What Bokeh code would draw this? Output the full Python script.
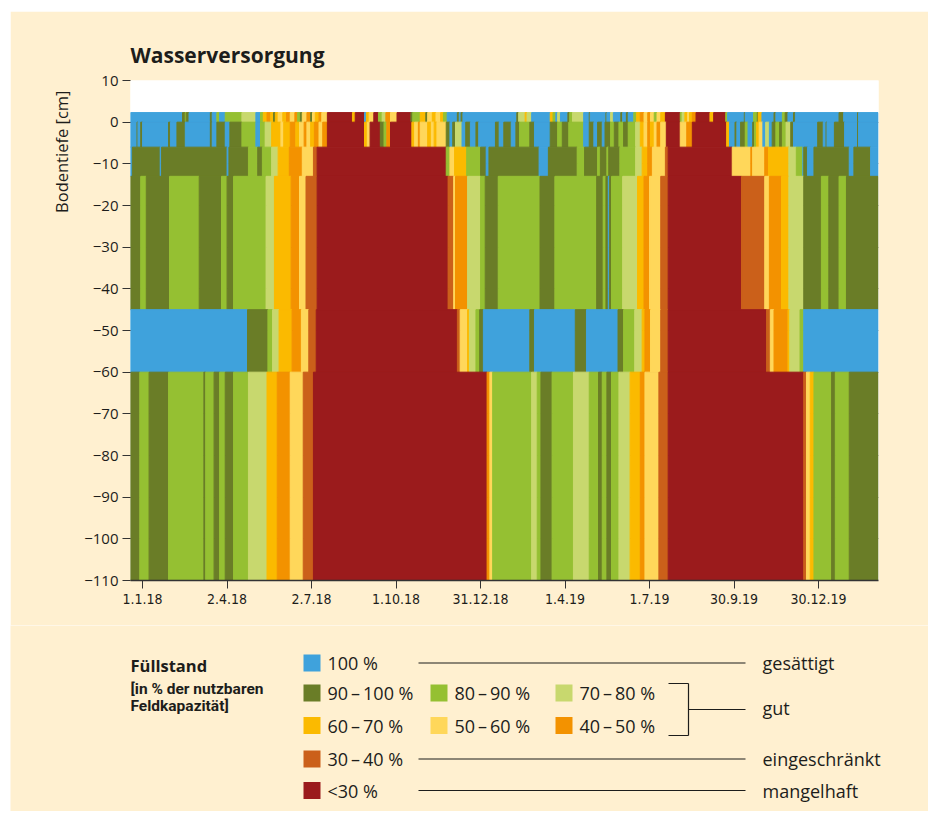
import pandas as pd
from bokeh.plotting import figure
from bokeh.models import ColumnDataSource, FixedTicker, Range1d, Title
from bokeh.core.properties import value
from bokeh.embed import file_html
from bokeh.resources import INLINE

# ---------------- data ----------------
CLASS_LABELS = ["100 %", "90\u2009–\u2009100 %", "80\u2009–\u200990 %", "70\u2009–\u200980 %",
                "60\u2009–\u200970 %", "50\u2009–\u200960 %", "40\u2009–\u200950 %",
                "30\u2009–\u200940 %", "<30 %"]
CLASS_COLORS = ["#3FA2DC", "#6A7D27", "#95C032", "#C8D86E", "#FBBA00",
                "#FFD75A", "#F39200", "#CB601A", "#9B1B1C"]
RATINGS = ["gesättigt", "gut", "eingeschränkt", "mangelhaft"]

X_TICK_LABELS = ["1.1.18", "2.4.18", "2.7.18", "1.10.18", "31.12.18",
                 "1.4.19", "1.7.19", "30.9.19", "30.12.19"]
ORIGIN = "2018-01-01"          # day 0 of the x axis
START_DAY, END_DAY = -13, 792  # first / last day of the record
Y_TICKS = list(range(-110, 11, 10))

# soil layers (cm): top and bottom
LAYER_TOP = [2.3, 0, -6, -13, -45, -60]
LAYER_BOTTOM = [0, -6, -13, -45, -60, -110]

# each layer: start day of each period and class index (0 = 100 %, 8 = <30 %)
A_START = [-13, 43, 46, 47, 50, 73, 75, 80, 83, 89, 107, 122, 127, 130, 134, 138, 141, 143, 146, 151,
           155, 159, 164, 167, 170, 172, 177, 181, 183, 186, 190, 193, 199, 226, 229, 239, 241, 244, 249, 254,
           258, 262, 267, 274, 289, 291, 299, 305, 307, 312, 316, 321, 324, 328, 339, 341, 343, 345, 403, 405,
           412, 414, 419, 439, 442, 445, 447, 450, 458, 460, 463, 475, 481, 482, 499, 500, 504, 507, 515, 517,
           521, 523, 529, 532, 536, 540, 544, 547, 551, 554, 558, 563, 579, 581, 584, 587, 589, 592, 596, 611,
           615, 628, 630, 648, 649, 658, 662, 663, 667, 680, 682, 689, 692, 695, 701, 703, 750, 755, 770, 771]
A_CLASS = [0, 1, 2, 1, 0, 1, 0, 2, 0, 2, 3, 0, 2, 4, 6, 4, 1, 4, 5, 4,
           6, 5, 6, 2, 1, 5, 6, 1, 5, 4, 6, 5, 8, 4, 8, 0, 4, 5, 8, 2,
           3, 6, 5, 8, 1, 2, 4, 1, 5, 4, 5, 4, 2, 0, 1, 0, 1, 0, 1, 3,
           4, 3, 0, 4, 2, 0, 3, 0, 1, 2, 3, 0, 1, 0, 1, 0, 3, 0, 1, 0,
           1, 0, 2, 4, 6, 5, 6, 5, 2, 5, 4, 8, 2, 3, 4, 5, 4, 6, 8, 4,
           8, 2, 0, 1, 0, 2, 1, 4, 0, 1, 0, 2, 1, 0, 1, 0, 1, 0, 1, 0]

B_START = [-13, -6, -5, -2, 0, 28, 30, 37, 46, 73, 75, 80, 89, 94, 107, 122, 127, 132, 139, 149,
           152, 159, 165, 169, 174, 177, 181, 185, 190, 194, 199, 239, 242, 245, 256, 260, 263, 267, 290, 293,
           297, 299, 307, 311, 314, 317, 327, 331, 334, 337, 344, 348, 353, 359, 362, 380, 384, 389, 397, 402,
           406, 417, 422, 439, 447, 452, 459, 475, 481, 486, 490, 495, 498, 504, 508, 513, 518, 523, 531, 536,
           540, 544, 547, 551, 554, 558, 564, 579, 586, 592, 629, 632, 638, 640, 644, 649, 652, 657, 659, 661,
           664, 668, 671, 675, 678, 682, 686, 689, 693, 698, 701, 727, 733, 736, 737, 745, 756, 770, 771]
B_CLASS = [0, 1, 0, 1, 0, 1, 0, 1, 0, 1, 0, 1, 0, 1, 2, 0, 2, 3, 4, 5,
           4, 6, 4, 5, 6, 5, 4, 6, 5, 6, 8, 4, 5, 8, 1, 2, 6, 8, 4, 5,
           6, 5, 4, 5, 4, 5, 1, 0, 1, 3, 0, 1, 0, 1, 0, 1, 0, 1, 0, 1,
           2, 1, 0, 1, 2, 1, 2, 0, 1, 0, 1, 0, 1, 2, 1, 2, 1, 2, 3, 4,
           5, 6, 4, 5, 6, 5, 8, 5, 6, 8, 4, 0, 1, 0, 1, 2, 0, 1, 2, 4,
           5, 0, 3, 0, 1, 2, 1, 2, 3, 1, 0, 1, 0, 1, 0, 1, 0, 1, 0]

C_START = [-13, -11, 19, 20.5, 91, 93, 114, 124, 129, 139, 146, 158, 172, 184, 188, 327, 331, 336, 349, 364,
           370, 373, 427, 437, 468, 476, 490, 493, 500, 502, 514, 531, 538, 544, 549, 563, 566, 635, 655, 657,
           670, 674, 696, 704, 711, 712, 716, 723, 761, 766, 784]
C_CLASS = [0, 1, 0, 1, 0, 1, 2, 1, 2, 3, 4, 6, 5, 7, 8, 2, 5, 4, 2, 1,
           0, 1, 0, 1, 2, 1, 2, 1, 2, 1, 2, 3, 4, 6, 5, 7, 8, 5, 6, 5,
           6, 4, 3, 2, 0, 1, 0, 1, 0, 1, 0]

D_START = [-13, -2, 4, 29, 61, 85, 91, 98, 133, 142, 160, 169, 176, 188, 329, 335, 337, 350, 364, 369,
           383, 428, 444, 489, 496, 499, 501.5, 503, 505, 517, 533, 540, 546, 558, 566, 645, 670, 675, 688, 696,
           712, 731, 739, 750, 758]
D_CLASS = [1, 2, 1, 2, 1, 2, 1, 2, 3, 4, 6, 5, 7, 8, 7, 5, 6, 3, 2, 1,
           2, 1, 2, 1, 2, 1, 0, 1, 2, 3, 4, 6, 5, 7, 8, 7, 5, 6, 4, 3,
           1, 2, 1, 2, 1]

E_START = [-13, 113, 135, 140, 147, 161, 171, 179, 187, 339, 342, 350, 352, 359, 363, 367, 417, 422, 466, 478,
           512, 518, 530, 538, 541, 547, 558, 566, 672, 676, 680, 695, 697, 708, 712]
E_CLASS = [0, 1, 2, 3, 4, 6, 5, 7, 8, 7, 5, 4, 3, 2, 1, 0, 1, 0, 1, 0,
           1, 2, 3, 4, 6, 5, 7, 8, 7, 5, 6, 4, 3, 2, 0]

F_START = [-13, -3, 7, 28, 66, 68, 77, 83, 89, 98, 114, 134, 145, 159, 173, 184, 371, 374, 377, 419,
           425, 429, 441, 464, 481, 491, 495, 500, 505, 513, 525, 536, 541, 556, 566, 712, 715, 719, 723, 742,
           746, 761]
F_CLASS = [1, 2, 1, 2, 1, 2, 1, 2, 1, 2, 3, 4, 6, 5, 7, 8, 6, 5, 2, 3,
           2, 1, 2, 3, 2, 1, 2, 1, 2, 3, 4, 6, 5, 7, 8, 7, 5, 4, 2, 1,
           2, 1]

LAYER_STARTS = [A_START, B_START, C_START, D_START, E_START, F_START]
LAYER_CLASSES = [A_CLASS, B_CLASS, C_CLASS, D_CLASS, E_CLASS, F_CLASS]

# ---------------- build table ----------------
rows = {"left": [], "right": [], "top": [], "bottom": [], "color": []}
for top, bottom, starts, classes in zip(LAYER_TOP, LAYER_BOTTOM, LAYER_STARTS, LAYER_CLASSES):
    ends = list(starts[1:]) + [END_DAY]
    for s, e, c in zip(starts, ends, classes):
        rows["left"].append(s)
        rows["right"].append(e)
        rows["top"].append(top)
        rows["bottom"].append(bottom)
        rows["color"].append(CLASS_COLORS[c])
src = ColumnDataSource(rows)

tick_days = [int(d) for d in
             (pd.to_datetime(X_TICK_LABELS, format="%d.%m.%y") - pd.Timestamp(ORIGIN)).days]

# ---------------- style ----------------
CREAM = "#FFF0D0"
INK = "#1d1d1b"
FONT = "Open Sans"
NARROW = "Liberation Sans Narrow, DejaVu Sans Condensed, sans-serif"

W = 918
H1 = 614
H2 = 186

p = figure(width=W, height=H1, x_range=Range1d(START_DAY, END_DAY + 0.5),
           y_range=Range1d(-110, 10), toolbar_location=None, output_backend="svg",
           min_border_left=120, min_border_right=50, min_border_top=69, min_border_bottom=45,
           margin=(11, 0, 0, 10))
p.background_fill_color = "white"
p.border_fill_color = CREAM
p.outline_line_color = None

p.title.text = "Wasserversorgung"
p.title.align = "left"
p.title.text_font = FONT
p.title.text_font_style = "bold"
p.title.text_font_size = "21px"
p.title.text_color = INK
p.title.standoff = 24

p.add_layout(Title(text="Bodentiefe [cm]", align="right", offset=10, standoff=18,
                   text_font=FONT, text_font_style="normal", text_font_size="16.5px",
                   text_color=INK), "left")

p.quad(left="left", right="right", top="top", bottom="bottom", source=src,
       fill_color="color", line_color="color", line_width=1.0)

p.xgrid.visible = False
p.ygrid.ticker = FixedTicker(ticks=Y_TICKS)
p.ygrid.grid_line_color = "#555555"
p.ygrid.grid_line_width = 1.2

p.yaxis.ticker = FixedTicker(ticks=Y_TICKS)
p.yaxis.axis_line_color = None
p.yaxis.major_tick_in = 0
p.yaxis.major_tick_out = 8
p.yaxis.major_tick_line_color = "#333333"
p.yaxis.minor_tick_line_color = None
p.yaxis.major_label_standoff = 4
p.yaxis.major_label_text_font = FONT
p.yaxis.major_label_text_font_size = "15px"
p.yaxis.major_label_text_color = INK

p.xaxis.ticker = FixedTicker(ticks=tick_days)
p.xaxis.major_label_overrides = {d: t for d, t in zip(tick_days, X_TICK_LABELS)}
p.xaxis.axis_line_color = "#333333"
p.xaxis.axis_line_width = 1.5
p.xaxis.major_tick_in = 0
p.xaxis.major_tick_out = 8
p.xaxis.major_tick_line_color = "#333333"
p.xaxis.minor_tick_line_color = None
p.xaxis.major_label_standoff = 5
p.xaxis.major_label_text_font = NARROW
p.xaxis.major_label_text_font_size = "14px"
p.xaxis.major_label_text_color = INK

# ---------------- legend panel ----------------
leg = figure(width=W, height=H2, x_range=Range1d(0, W), y_range=Range1d(H2, 0),
             toolbar_location=None, output_backend="svg", x_axis_type=None, y_axis_type=None,
             min_border=0, margin=(0, 0, 0, 10))
leg.background_fill_color = CREAM
leg.border_fill_color = CREAM
leg.outline_line_color = None
leg.grid.visible = False

LEG_ROW = [0, 1, 1, 1, 2, 2, 2, 3, 4]
LEG_COL = [0, 0, 1, 2, 0, 1, 2, 0, 0]
ROW_Y = [37.5, 67.5, 100, 133.5, 165]
COL_X = [293, 420, 545]
SW = 17

sw_x = [COL_X[c] + SW / 2 for c in LEG_COL]
sw_y = [ROW_Y[r] for r in LEG_ROW]
leg.rect(x=sw_x, y=sw_y, width=SW, height=SW, fill_color=CLASS_COLORS, line_color=None)
leg.text(x=[COL_X[c] + 24 for c in LEG_COL], y=sw_y, text=CLASS_LABELS,
         text_baseline="middle", text_font=value(FONT), text_font_size="18px", text_color=INK)

LINE_X0, LINE_X1, RATE_X = 408, 735, 752
BR_X0, BR_X1 = 658, 678
br_top = ROW_Y[1] - 9.5
br_bot = ROW_Y[2] + 10
br_mid = (br_top + br_bot) / 2
rate_y = [ROW_Y[0], br_mid - 2, ROW_Y[3], ROW_Y[4]]
leg.segment(x0=[LINE_X0, BR_X1, LINE_X0, LINE_X0, BR_X0, BR_X1, BR_X0],
            y0=[ROW_Y[0], br_mid, ROW_Y[3], ROW_Y[4], br_top, br_top, br_bot],
            x1=[LINE_X1, LINE_X1, LINE_X1, LINE_X1, BR_X1, BR_X1, BR_X1],
            y1=[ROW_Y[0], br_mid, ROW_Y[3], ROW_Y[4], br_top, br_bot, br_bot],
            line_color=INK, line_width=1.2)
leg.text(x=[RATE_X] * 4, y=rate_y, text=RATINGS, text_baseline="middle",
         text_font=value(FONT), text_font_size="18px", text_color=INK)

leg.text(x=[120], y=[40], text=["Füllstand"], text_baseline="middle",
         text_font=value(FONT), text_font_style="bold", text_font_size="16.5px", text_color=INK)
leg.text(x=[120, 120], y=[63, 80], text=["[in % der nutzbaren", "Feldkapazität]"],
         text_baseline="middle", text_font=value("Roboto"), text_font_style="bold",
         text_font_size="15.5px", text_color=INK)

open("out.html", "w").write(file_html([p, leg], INLINE))
